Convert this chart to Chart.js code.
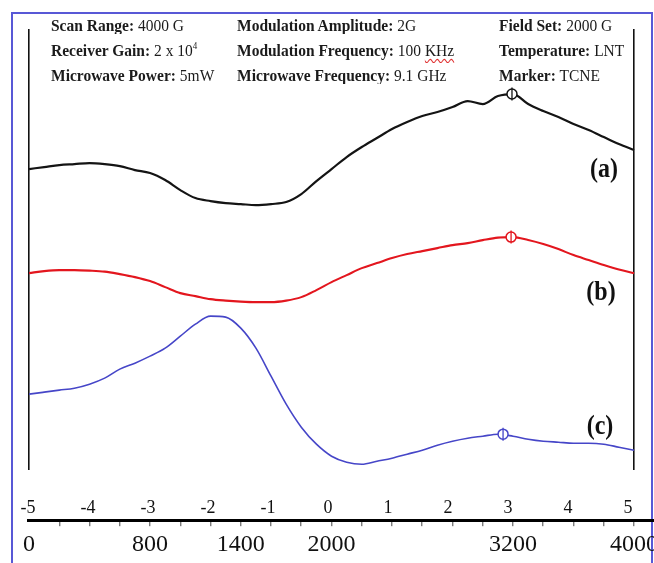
<!DOCTYPE html>
<html>
<head>
<meta charset="utf-8">
<title>EPR spectra</title>
<script src="https://cdn.jsdelivr.net/npm/chart.js@4.4.1/dist/chart.umd.min.js"></script>
<style>
  html, body { margin: 0; padding: 0; background: #fff; overflow: hidden; }
  #wrap { position: relative; width: 680px; height: 563px; }
  #frame {
    position: absolute; left: 11px; top: 12px; width: 638px; height: 620px;
    border: 2px solid #5858d6; border-bottom: none; z-index: 0;
  }
  #chart { position: absolute; left: 0; top: 0; z-index: 1; }
  .hdr {
    position: absolute; z-index: 2; white-space: nowrap;
    font-family: "Liberation Serif", "Times New Roman", serif;
    font-size: 15.5px; line-height: 18px; color: #1b1b1b;
    transform: scaleY(1.12); transform-origin: left center;
  }
  .hdr b { font-weight: bold; }
  .hdr sup { font-size: 9px; vertical-align: 6px; line-height: 0; }
  .wavy { text-decoration: underline wavy #e03030; text-decoration-thickness: 1px; text-underline-offset: 2px; }
  .tag {
    position: absolute; z-index: 2; transform: translate(-50%, -50%) scaleY(1.1);
    font-family: "Liberation Serif", "Times New Roman", serif;
    font-weight: bold; font-size: 24px; color: #111; white-space: nowrap;
  }
</style>
</head>
<body>
<div id="wrap">
  <div id="frame"></div>
  <canvas id="chart" width="680" height="563"></canvas>

  <div class="hdr" style="left:51px; top:16px"><b>Scan Range:</b> 4000 G</div>
  <div class="hdr" style="left:237px; top:16px"><b>Modulation Amplitude:</b> 2G</div>
  <div class="hdr" style="left:499px; top:16px"><b>Field Set:</b> 2000 G</div>
  <div class="hdr" style="left:51px; top:41px"><b>Receiver Gain:</b> 2 x 10<sup>4</sup></div>
  <div class="hdr" style="left:237px; top:41px"><b>Modulation Frequency:</b> 100 <span class="wavy">KHz</span></div>
  <div class="hdr" style="left:499px; top:41px"><b>Temperature:</b> LNT</div>
  <div class="hdr" style="left:51px; top:66px"><b>Microwave Power:</b> 5mW</div>
  <div class="hdr" style="left:237px; top:66px"><b>Microwave Frequency:</b> 9.1 GHz</div>
  <div class="hdr" style="left:499px; top:66px"><b>Marker:</b> TCNE</div>

  <div class="tag" style="left:604px; top:169px">(a)</div>
  <div class="tag" style="left:601px; top:292px">(b)</div>
  <div class="tag" style="left:600px; top:426px">(c)</div>
</div>

<script>
// magnetic field (G), scan 0-4000
const FIELD = [0, 100, 200, 300, 400, 500, 600, 700, 800, 900, 1000,
  1100, 1200, 1300, 1400, 1500, 1600, 1700, 1800, 1900, 2000,
  2100, 2200, 2300, 2400, 2500, 2600, 2700, 2800, 2900, 3000,
  3100, 3200, 3300, 3400, 3500, 3600, 3700, 3800, 3900, 4000];

// signal (arb. units, traces offset)
const SIGNAL_A = [302, 304, 306, 307, 308, 307, 305, 301, 298, 291, 281,
  273, 270, 268, 267, 266, 267, 269, 277, 290, 302,
  314, 324, 333, 342, 349, 355, 359, 364, 370, 367,
  375, 377, 367, 360, 354, 347, 341, 334, 327, 321];
const SIGNAL_B = [198, 200, 201, 201, 200.5, 199.5, 197, 194, 190, 184, 178,
  175, 172, 170.5, 169.5, 169, 169, 170.5, 174, 181, 189,
  196, 203, 208, 213, 217, 220, 223, 226, 228, 231,
  233.5, 234, 231, 227, 222, 216, 211, 206, 201.5, 198];
const SIGNAL_C = [77, 79, 81, 83, 87, 93, 102, 108, 115, 123, 135,
  147, 155, 154, 143, 123, 95, 67, 44, 27, 15,
  9, 7, 10, 13, 17, 21, 26, 30, 33, 35,
  37, 35, 32, 30, 29, 28, 28, 27, 24, 21];

// TCNE marker on each trace (a, b, c)
const MARKER_FIELD = [3193, 3187, 3134];
const MARKER_SIGNAL = [377, 234, 37];

// tick labels
const FIELD_LABELS = [0, 800, 1400, 2000, 3200, 4000];
const G_LABELS = [-5, -4, -3, -2, -1, 0, 1, 2, 3, 4, 5];

const COLORS = ["#141414", "#e3161e", "#4646c8"];
const SERIF = '"Liberation Serif", "Times New Roman", serif';

const toPoints = (ys) => FIELD.map((f, i) => ({ x: f, y: ys[i] }));

const markerSets = [];
MARKER_FIELD.forEach((f, i) => {
  const pt = [{ x: f, y: MARKER_SIGNAL[i] }];
  markerSets.push({
    type: "scatter", data: pt, pointStyle: "line", pointRotation: 90,
    pointRadius: 6.5, borderColor: COLORS[i], borderWidth: 1.3,
  });
  markerSets.push({
    type: "scatter", data: pt, pointStyle: "circle",
    pointRadius: 5, borderColor: COLORS[i], backgroundColor: "#fff", borderWidth: 1.5,
  });
});

const lineSet = (ys, color, width) => ({
  type: "line",
  data: toPoints(ys),
  borderColor: color,
  borderWidth: width,
  pointRadius: 0,
  fill: false,
  cubicInterpolationMode: "monotone",
});

new Chart(document.getElementById("chart"), {
  data: {
    datasets: [
      ...markerSets,
      lineSet(SIGNAL_A, COLORS[0], 2.2),
      lineSet(SIGNAL_B, COLORS[1], 2.1),
      lineSet(SIGNAL_C, COLORS[2], 1.6),
    ],
  },
  options: {
    responsive: false,
    animation: false,
    events: [],
    layout: { padding: { top: 29, left: 28, right: 26, bottom: 0 } },
    plugins: { legend: { display: false }, tooltip: { enabled: false } },
    scales: {
      x: {
        type: "linear",
        position: "bottom",
        weight: 1,
        min: -7,
        max: 4132,
        border: { display: true, color: "#000", width: 3 },
        grid: {
          drawOnChartArea: true,
          color: (c) => (c.tick && (c.tick.value === 0 || c.tick.value === 4000)) ? "#111" : "rgba(0,0,0,0)",
          lineWidth: 1.6,
          tickLength: 6,
          tickWidth: 1,
          tickColor: (c) => (c.tick && c.tick.value === 0) ? "rgba(0,0,0,0)" : "#444",
        },
        ticks: {
          stepSize: 200,
          includeBounds: false,
          autoSkip: false,
          maxRotation: 0,
          minRotation: 0,
          padding: 4,
          color: "#111",
          font: { family: SERIF, size: 24 },
          callback: (v) => FIELD_LABELS.includes(v) ? String(v) : "",
        },
      },
      g: {
        type: "linear",
        position: "bottom",
        weight: 0,
        min: -5,
        max: 5.433,
        afterBuildTicks: (s) => { s.ticks = G_LABELS.map((v) => ({ value: v })); },
        border: { display: false },
        // hidden tick marks only used to push labels down toward the axis line
        grid: { display: false, drawTicks: true, tickLength: 25, tickColor: "rgba(0,0,0,0)" },
        ticks: {
          autoSkip: false,
          maxRotation: 0,
          minRotation: 0,
          padding: 1.2,
          color: "#111",
          font: { family: SERIF, size: 18 },
          callback: (v) => String(v),
        },
      },
      y: { display: false, min: 0, max: 442 },
    },
  },
});
</script>
</body>
</html>
